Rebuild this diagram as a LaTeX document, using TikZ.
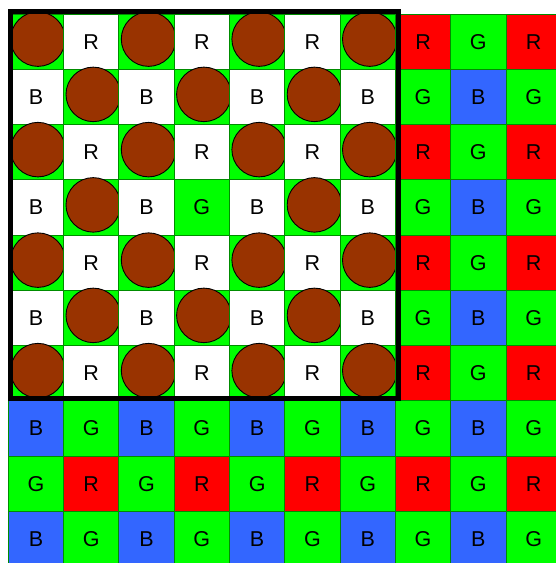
\documentclass[tikz,border=0pt]{standalone}
\usepackage{fontspec}
\setmainfont{Liberation Sans}
\definecolor{cg}{RGB}{0,255,0}
\definecolor{cr}{RGB}{255,0,0}
\definecolor{cb}{RGB}{51,102,255}
\definecolor{cw}{RGB}{255,255,255}
\definecolor{gline}{RGB}{0,140,0}
\definecolor{brown}{RGB}{153,51,0}
\tikzset{
  cellbox/.style={draw=gline, line width=1pt, minimum width=55.3pt, minimum height=55.25pt, inner sep=0pt, font=\fontsize{21.5}{24}\selectfont},
  disc/.style={circle, draw=black, line width=0.9pt, fill=brown, minimum size=54.5pt, inner sep=0pt},
  framebox/.style={draw=black, line width=5pt, inner sep=0pt}
}
\begin{document}
\begin{tikzpicture}[x=1pt,y=-1pt]
\useasboundingbox (0,0) rectangle (556,563);
\clip (0,0) rectangle (556,563);
\foreach \r in {0,...,9}{
  \foreach \c in {0,...,9}{
    \pgfmathtruncatemacro\k{2*mod(\r,2)+mod(\c,2)}
    \pgfmathtruncatemacro\ins{(\r<7)*(\c<7)}
    \pgfmathtruncatemacro\spc{(\r==3)*(\c==3)}
    \pgfmathtruncatemacro\isg{1-mod(\r+\c,2)}
    \pgfmathsetmacro\cx{8.3+55.3*(\c+0.5)}
    \pgfmathsetmacro\cy{14.2+55.25*(\r+0.5)}
    \ifcase\k \def\L{G}\def\F{cg}\or \def\L{R}\def\F{cr}\or \def\L{B}\def\F{cb}\else \def\L{G}\def\F{cg}\fi
    \ifnum\ins=1
      \ifnum\isg=1
        \ifnum\spc=0 \def\L{}\fi
      \else
        \def\F{cw}
      \fi
    \fi
    \node[cellbox, fill=\F] (c-\r-\c) at (\cx,\cy) {\L};
    \ifnum\ins=1 \ifnum\isg=1 \ifnum\spc=0
      \node[disc] (d-\r-\c) at ([shift={(2,-2.7)}]c-\r-\c.center) {};
    \fi\fi\fi
  }
}
\node[framebox, minimum width=387.4pt, minimum height=386.4pt] (frame) at (204.5,205) {};
\end{tikzpicture}
\end{document}
